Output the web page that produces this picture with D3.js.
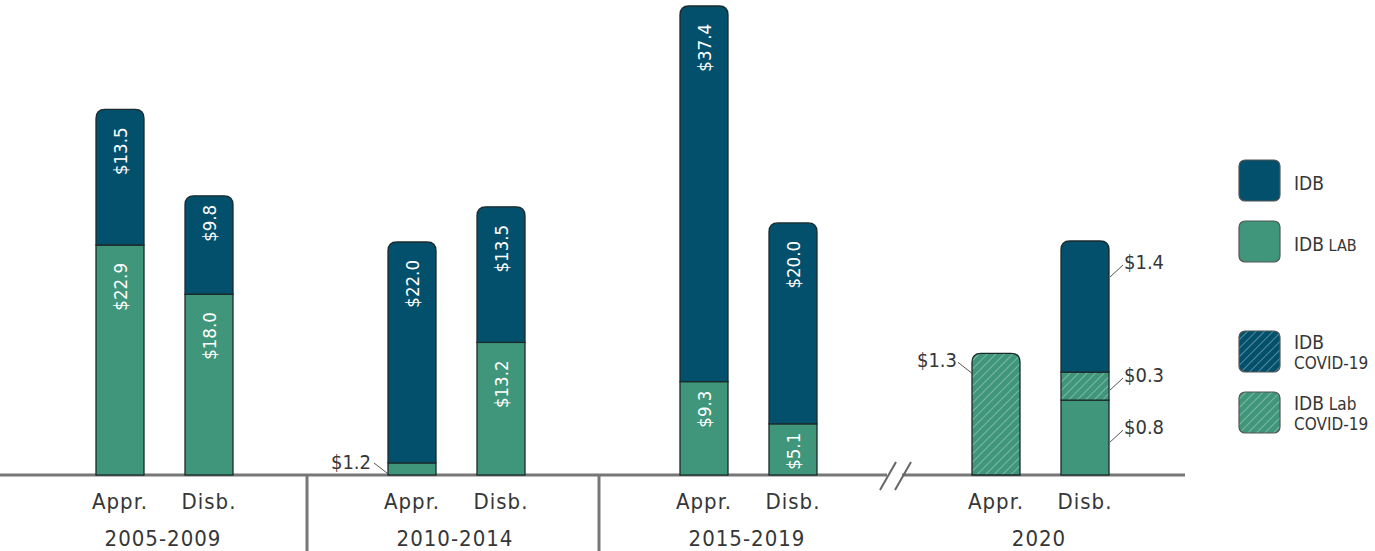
<!DOCTYPE html>
<html>
<head>
<meta charset="utf-8">
<script src="https://cdn.jsdelivr.net/npm/d3@7"></script>
<style>
  body { margin: 0; background: #fff; }
  svg { display: block; font-family: "DejaVu Sans Condensed", "DejaVu Sans", sans-serif; }
</style>
</head>
<body>
<svg id="chart" width="1375" height="551"></svg>
<script>
const periods = ["2005-2009", "2010-2014", "2015-2019", "2020"];
const kinds = ["Appr.", "Disb."];

// one value per period x kind, in order
const idbLab      = [22.9, 18.0, 1.2, 13.2, 9.3, 5.1, 0, 0.8];
const idbLabCovid = [0, 0, 0, 0, 0, 0, 1.3, 0.3];
const idbCovid    = [0, 0, 0, 0, 0, 0, 0, 0];
const idb         = [13.5, 9.8, 22.0, 13.5, 37.4, 20.0, 0, 1.4];

const seriesKeys = ["idbLab", "idbLabCovid", "idbCovid", "idb"];
const seriesData = { idbLab, idbLabCovid, idbCovid, idb };

const legendItems = [
  { key: "idb", main: "IDB", small: "", line2: "" },
  { key: "idbLab", main: "IDB", small: "LAB", line2: "" },
  { key: "idbCovid", main: "IDB", small: "", line2: "COVID-19" },
  { key: "idbLabCovid", main: "IDB", small: "Lab", line2: "COVID-19" },
];

const C_IDB = "#03506c";
const C_LAB = "#3f967a";
const TXT = "#363636";
const fillFor = { idb: C_IDB, idbLab: C_LAB, idbCovid: "url(#hatch-idb)", idbLabCovid: "url(#hatch-lab)" };

const svg = d3.select("#chart");
const axisY = 475;
const barW = 48;

const defs = svg.append("defs");
[["hatch-idb", C_IDB], ["hatch-lab", C_LAB]].forEach(([id, c]) => {
  const p = defs.append("pattern")
    .attr("id", id).attr("patternUnits", "userSpaceOnUse")
    .attr("width", 6).attr("height", 6)
    .attr("patternTransform", "rotate(45)");
  p.append("rect").attr("width", 6).attr("height", 6).attr("fill", c);
  p.append("line").attr("x1", 0).attr("y1", 0).attr("x2", 0).attr("y2", 6)
    .attr("stroke", "#fff").attr("stroke-opacity", 0.55).attr("stroke-width", 1.2);
});

const xOuter = d3.scaleBand().domain(periods).range([17, 1185]);
const xInner = d3.scalePoint().domain(kinds).range([103, 192]);
const yMain = d3.scaleLinear().domain([0, 46.5]).range([axisY, 8]);
const y2020 = d3.scaleLinear().domain([0, 2.5]).range([axisY, 241]);

// build stacked rows
const rows = [];
periods.forEach((p, pi) => {
  kinds.forEach((k, ki) => {
    const i = pi * 2 + ki;
    const y = p === "2020" ? y2020 : yMain;
    let base = 0;
    const segs = [];
    seriesKeys.forEach(s => {
      const v = seriesData[s][i];
      if (v > 0) {
        segs.push({ key: s, v, y0: base, y1: base + v });
        base += v;
      }
    });
    rows.push({ period: p, kind: k, cx: xOuter(p) + xInner(k), y, segs });
  });
});

// axis line + separators
svg.append("line").attr("x1", 0).attr("x2", 1185).attr("y1", axisY).attr("y2", axisY)
  .attr("stroke", "#777").attr("stroke-width", 3);
periods.slice(1, 3).forEach(p => {
  const x = xOuter(p) - 2;
  svg.append("line").attr("x1", x).attr("x2", x).attr("y1", axisY).attr("y2", 551)
    .attr("stroke", "#777").attr("stroke-width", 3);
});

// axis break
const bx = 896;
svg.append("rect").attr("x", bx - 9).attr("y", axisY - 3).attr("width", 15).attr("height", 6).attr("fill", "#fff");
[-8, 7].forEach(dx => {
  svg.append("line")
    .attr("x1", bx + dx - 8).attr("y1", axisY + 15)
    .attr("x2", bx + dx + 8).attr("y2", axisY - 13)
    .attr("stroke", "#666").attr("stroke-width", 2);
});

function topRoundedPath(x, yTop, w, h, r) {
  return `M${x},${yTop + h}V${yTop + r}Q${x},${yTop} ${x + r},${yTop}H${x + w - r}Q${x + w},${yTop} ${x + w},${yTop + r}V${yTop + h}Z`;
}

// bars
rows.forEach(row => {
  const g = svg.append("g");
  const x0 = row.cx - barW / 2;
  row.segs.forEach((s, si) => {
    const yTop = row.y(s.y1), yBot = row.y(s.y0);
    const isTop = si === row.segs.length - 1;
    if (isTop) {
      g.append("path").attr("d", topRoundedPath(x0, yTop, barW, yBot - yTop, 9))
        .attr("fill", fillFor[s.key]).attr("stroke", "#1b2a2a").attr("stroke-width", 1.3);
    } else {
      g.append("rect").attr("x", x0).attr("y", yTop).attr("width", barW).attr("height", yBot - yTop)
        .attr("fill", fillFor[s.key]).attr("stroke", "#1b2a2a").attr("stroke-width", 1.3);
    }
    s.yTop = yTop; s.yBot = yBot;
  });
});

// value labels inside bars (rotated)
rows.filter(r => r.period !== "2020").forEach(row => {
  row.segs.forEach(s => {
    const h = s.yBot - s.yTop;
    if (h < 40) return;
    const off = h < 100 ? 9 : 18;
    svg.append("text")
      .attr("transform", `translate(${row.cx + 7},${s.yTop + off}) rotate(-90)`)
      .attr("text-anchor", "end")
      .attr("fill", "#fff")
      .attr("font-size", 18.5)
      .text(`$${s.v.toFixed(1)}`);
  });
});

// callout labels for small segments
function callout(x1, y1, x2, y2, tx, ty, anchor, txt) {
  svg.append("line").attr("x1", x1).attr("y1", y1).attr("x2", x2).attr("y2", y2)
    .attr("stroke", "#555").attr("stroke-width", 1);
  svg.append("text").attr("x", tx).attr("y", ty).attr("text-anchor", anchor)
    .attr("fill", TXT).attr("font-size", 20).text(txt);
}
const r1 = rows[2]; // 2010-2014 Appr.
callout(r1.cx - barW / 2 - 1, r1.segs[0].yBot - 2, r1.cx - barW / 2 - 14, r1.segs[0].yBot - 12,
  r1.cx - barW / 2 - 17, r1.segs[0].yBot - 6, "end", `$${r1.segs[0].v.toFixed(1)}`);
const r6 = rows[6]; // 2020 Appr.
callout(r6.cx - barW / 2, r6.segs[0].yTop + 20, r6.cx - barW / 2 - 14, r6.segs[0].yTop + 9,
  r6.cx - barW / 2 - 15, r6.segs[0].yTop + 14, "end", `$${r6.segs[0].v.toFixed(1)}`);
const r7 = rows[7]; // 2020 Disb.
r7.segs.forEach(s => {
  const ya = s.key === "idb" ? s.yTop + 36 : (s.key === "idbLab" ? s.yTop + 42 : (s.yTop + s.yBot) / 2 + 4);
  callout(r7.cx + barW / 2 + 1, ya, r7.cx + barW / 2 + 14, ya - 12,
    r7.cx + barW / 2 + 15, ya - 8, "start", `$${s.v.toFixed(1)}`);
});

// category labels
rows.forEach(row => {
  svg.append("text").attr("x", row.cx).attr("y", 509).attr("text-anchor", "middle")
    .attr("fill", TXT).attr("font-size", 22).attr("letter-spacing", 1).text(row.kind);
});
periods.forEach(p => {
  svg.append("text").attr("x", xOuter(p) + xOuter.bandwidth() / 2).attr("y", 546).attr("text-anchor", "middle")
    .attr("fill", TXT).attr("font-size", 22).attr("letter-spacing", 1).text(p);
});

// legend
const legendY = [160, 221, 331, 392];
legendItems.forEach((it, i) => {
  const y = legendY[i];
  svg.append("rect").attr("x", 1239).attr("y", y).attr("width", 41).attr("height", 41)
    .attr("rx", 6).attr("fill", fillFor[it.key]).attr("stroke", "#555").attr("stroke-width", 1.2);
  const t = svg.append("text").attr("x", 1294).attr("fill", TXT).attr("font-size", 19);
  if (it.line2) {
    t.attr("y", y + 18);
    t.append("tspan").text(it.main);
    if (it.small) t.append("tspan").attr("font-size", 17).text(" " + it.small);
    svg.append("text").attr("x", 1294).attr("y", y + 38).attr("fill", TXT)
      .attr("font-size", 17).text(it.line2);
  } else {
    t.attr("y", y + 30);
    t.append("tspan").text(it.main);
    if (it.small) t.append("tspan").attr("font-size", 16).text(" " + it.small);
  }
});
</script>
</body>
</html>
